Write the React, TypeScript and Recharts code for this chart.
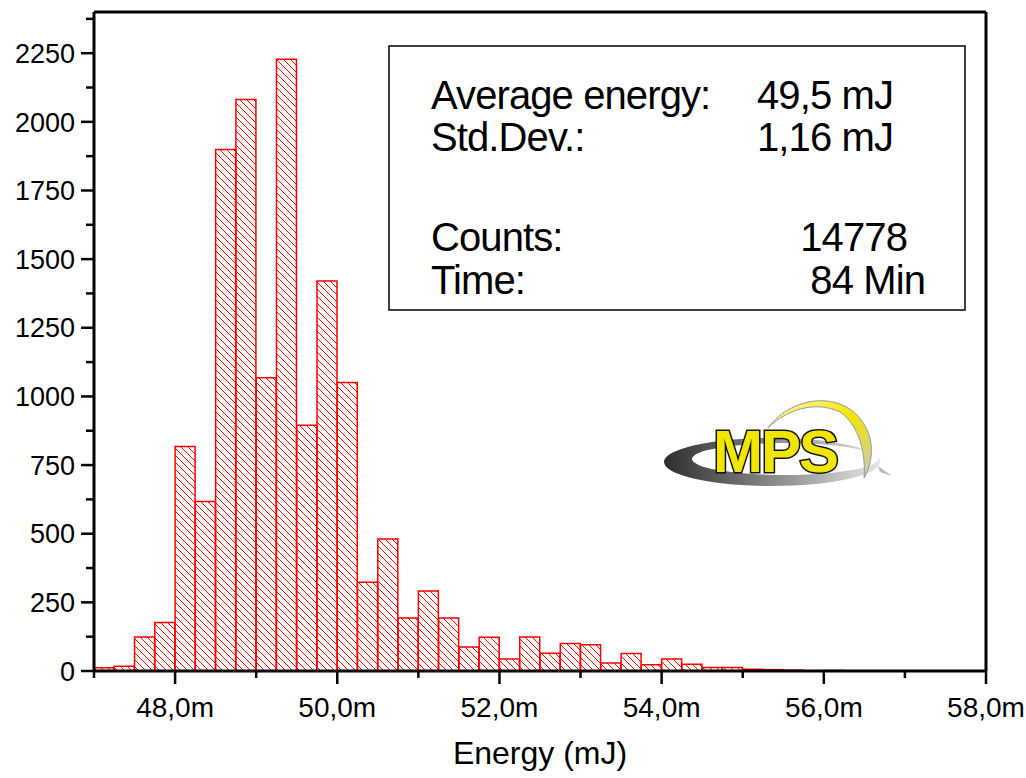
import { ComposedChart, Bar, XAxis, YAxis, Label } from "recharts";

// histogram bins (lower edge, mJ) and counts
const binStart = [
  47.0, 47.25, 47.5, 47.75, 48.0, 48.25, 48.5, 48.75, 49.0, 49.25, 49.5, 49.75,
  50.0, 50.25, 50.5, 50.75, 51.0, 51.25, 51.5, 51.75, 52.0, 52.25, 52.5, 52.75,
  53.0, 53.25, 53.5, 53.75, 54.0, 54.25, 54.5, 54.75, 55.0, 55.25, 55.5, 55.75, 56.0,
];
const counts = [
  12, 17, 124, 177, 818, 617, 1899, 2081, 1068, 2228, 895, 1420,
  1051, 323, 481, 193, 291, 193, 87, 123, 44, 124, 65, 100,
  96, 29, 64, 23, 44, 25, 13, 13, 6, 5, 3, 1, 2,
];
const binWidth = 0.25;

const xTicks = [47, 48, 49, 50, 51, 52, 53, 54, 55, 56, 57, 58];
const yTicks = [
  0, 125, 250, 375, 500, 625, 750, 875, 1000, 1125, 1250, 1375, 1500, 1625, 1750,
  1875, 2000, 2125, 2250, 2375,
];

const statLabels = ["Average energy:", "Std.Dev.:", "Counts:", "Time:"];
const statValues = ["49,5 mJ", "1,16 mJ", "14778", "84 Min"];

const data = binStart.map((s, i) => ({ x: s + binWidth / 2, count: counts[i] }));

const FONT = "'Liberation Sans', Arial, sans-serif";
const RED = "#ff0000";

const isMajorY = (v: number) => v % 250 === 0;
const isMajorX = (v: number) => v % 2 === 0;

const LeftTick = ({ x, y, payload }: any) => {
  const major = isMajorY(payload.value);
  return (
    <g>
      <line x1={x - (major ? 13 : 8)} x2={x} y1={y} y2={y} stroke="#000" strokeWidth={2.5} />
      {major && (
        <text x={x - 19} y={y} dy="0.36em" textAnchor="end" fontSize={27} fontFamily={FONT} fill="#000">
          {payload.value}
        </text>
      )}
    </g>
  );
};

const RightTick = ({ x, y, payload }: any) => {
  const major = isMajorY(payload.value);
  return <line x1={x - (major ? 14 : 8)} x2={x} y1={y} y2={y} stroke="#000" strokeWidth={2.5} />;
};

const BottomTick = ({ x, y, payload }: any) => {
  const major = isMajorX(payload.value);
  return (
    <g>
      <line x1={x} x2={x} y1={y} y2={y + (major ? 13 : 7)} stroke="#000" strokeWidth={2.5} />
      {major && (
        <text x={x} y={y + 46} textAnchor="middle" fontSize={28} fontFamily={FONT} fill="#000">
          {payload.value.toFixed(1).replace(".", ",") + "m"}
        </text>
      )}
    </g>
  );
};

const TopTick = ({ x, y, payload }: any) => {
  const major = isMajorX(payload.value);
  return <line x1={x} x2={x} y1={y} y2={y + (major ? 13 : 7)} stroke="#000" strokeWidth={2.5} />;
};

const axisLine = { stroke: "#000", strokeWidth: 3 };

export default function App() {
  return (
    <div style={{ position: "absolute", left: 0, top: 0, width: 1026, height: 778, background: "#fff" }}>
      <svg width={0} height={0} style={{ position: "absolute" }}>
        <defs>
          <pattern id="hatch" patternUnits="userSpaceOnUse" width={7} height={7}>
            <path d="M-1,-1 L8,8 M-1,6 L1,8 M6,-1 L8,1" stroke={RED} strokeWidth={1} />
          </pattern>
        </defs>
      </svg>
      <div style={{ position: "absolute", left: 0, top: 0 }}>
        <ComposedChart
          width={1026}
          height={778}
          data={data}
          margin={{ top: 11, right: 39, bottom: 0, left: 0 }}
          barCategoryGap={0}
          barGap={0}
        >
          <XAxis
            dataKey="x"
            type="number"
            domain={[47, 58]}
            ticks={xTicks}
            interval={0}
            height={107}
            tickSize={0}
            tickMargin={0}
            tickLine={false}
            axisLine={axisLine}
            tick={<BottomTick />}
          >
            <Label value="Energy (mJ)" position="insideBottom" offset={14} fontSize={32} fontFamily={FONT} fill="#000" />
          </XAxis>
          <XAxis
            xAxisId="top"
            orientation="top"
            type="number"
            domain={[47, 58]}
            ticks={xTicks}
            interval={0}
            height={1}
            tickSize={0}
            tickMargin={0}
            tickLine={false}
            axisLine={axisLine}
            tick={<TopTick />}
          />
          <YAxis
            type="number"
            domain={[0, 2400]}
            ticks={yTicks}
            interval={0}
            width={94}
            tickSize={0}
            tickMargin={0}
            tickLine={false}
            axisLine={axisLine}
            tick={<LeftTick />}
          />
          <YAxis
            yAxisId="right"
            orientation="right"
            type="number"
            domain={[0, 2400]}
            ticks={yTicks}
            interval={0}
            width={1}
            tickSize={0}
            tickMargin={0}
            tickLine={false}
            axisLine={axisLine}
            tick={<RightTick />}
          />
          <Bar dataKey="count" fill="url(#hatch)" stroke={RED} strokeWidth={1.5} isAnimationActive={false} />
        </ComposedChart>
      </div>
      <svg width={1026} height={778} style={{ position: "absolute", left: 0, top: 0, pointerEvents: "none" }}>
        <defs>
          <linearGradient id="swoosh" x1="0" y1="0" x2="1" y2="0">
            <stop offset="0" stopColor="#2e2e2e" />
            <stop offset="0.6" stopColor="#9a9a9a" />
            <stop offset="1" stopColor="#e6e6e6" />
          </linearGradient>
          <linearGradient id="arc" x1="0" y1="0" x2="1" y2="1">
            <stop offset="0" stopColor="#fffbb8" />
            <stop offset="0.5" stopColor="#f2e400" />
            <stop offset="1" stopColor="#c9c9c9" />
          </linearGradient>
        </defs>
        <rect x={389} y={46} width={576} height={264} fill="none" stroke="#000" strokeWidth={1.5} />
        {statLabels.map((t, i) => (
          <text key={t} x={431} y={[109, 151, 251, 294][i]} fontSize={40} fontFamily={FONT} letterSpacing={-0.9} fill="#000">
            {t}
          </text>
        ))}
        {statValues.map((t, i) => (
          <text key={t} x={[893, 893, 907, 925][i]} y={[109, 151, 251, 294][i]} textAnchor="end" fontSize={40} fontFamily={FONT} letterSpacing={-0.9} fill="#000">
            {t}
          </text>
        ))}
        <path
          d="M664,462 a108,24 0 1,0 216,0 a108,24 0 1,0 -216,0 Z M692,459 a93,16 0 1,0 186,0 a93,16 0 1,0 -186,0 Z"
          fill="url(#swoosh)"
          fillRule="evenodd"
        />
        <path d="M878,466 L892,476 L880,472 Z" fill="#bbb" />
        <path
          d="M768,428 C792,394 850,388 868,432 C875,450 870,468 864,478 C866,455 860,426 840,412 C815,400 786,410 768,428 Z"
          fill="url(#arc)"
          stroke="#999"
          strokeWidth={1}
        />
        <text
          x={713}
          y={472}
          fontSize={60}
          fontWeight="bold"
          fontFamily={FONT}
          letterSpacing={-2}
          fill="#f2e600"
          stroke="#111"
          strokeWidth={3}
          paintOrder="stroke"
        >
          MPS
        </text>
      </svg>
    </div>
  );
}
